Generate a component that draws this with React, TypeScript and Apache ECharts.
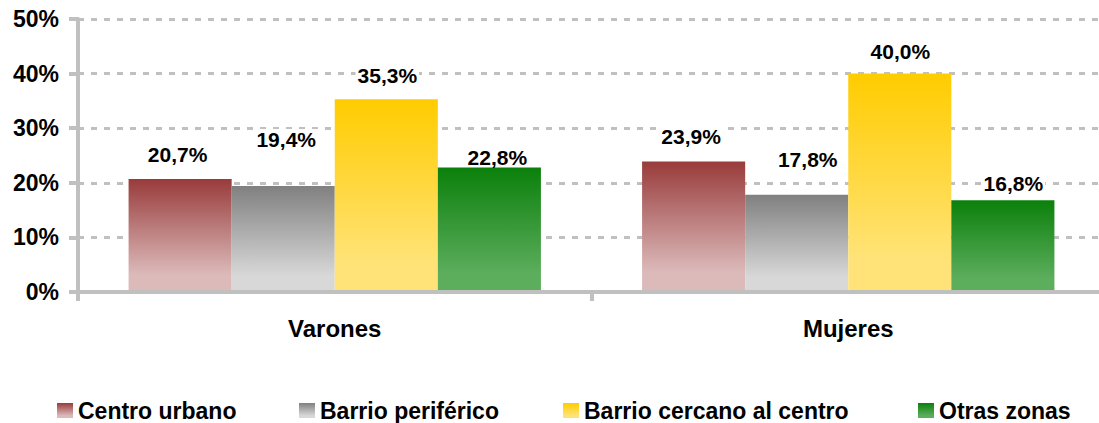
import React, { useEffect, useRef } from "react";
import * as echarts from "echarts";

const categories = ["Varones", "Mujeres"];
const seriesNames = ["Centro urbano", "Barrio periférico", "Barrio cercano al centro", "Otras zonas"];
const centroUrbano = [20.7, 23.9];
const barrioPeriferico = [19.4, 17.8];
const barrioCercano = [35.3, 40.0];
const otrasZonas = [22.8, 16.8];
const yMin = 0;
const yMax = 50;
const yInterval = 10;

// styling (not data)
const gradients = [
  ["#993b3b", "#dcbaba"],
  ["#808080", "#d8d8d8"],
  ["#ffcc00", "#ffe378"],
  ["#0b800b", "#5cad5c"],
];
const labelOffsets = [
  [[-2.5, -14], [-2.5, -15.5]],
  [[3, -37], [11, -25.5]],
  [[1, -13.5], [0.5, -12.5]],
  [[8, -0.5], [10.5, -7]],
];
const legendLefts = [57, 299, 563, 918];
const FONT = "'Liberation Sans', Arial, sans-serif";

function grad(top: string, bottom: string) {
  return new echarts.graphic.LinearGradient(0, 0, 0, 1, [
    { offset: 0, color: top },
    { offset: 0.85, color: bottom },
    { offset: 1, color: bottom },
  ]);
}

export default function App() {
  const ref = useRef<HTMLDivElement>(null);
  useEffect(() => {
    if (!ref.current) return;
    const chart = echarts.init(ref.current, null, { renderer: "svg" });
    const values = [centroUrbano, barrioPeriferico, barrioCercano, otrasZonas];
    const series = values.map((vals, i) => ({
      name: seriesNames[i],
      type: "bar",
      z: 3,
      barGap: "0%",
      barCategoryGap: "19.7%",
      itemStyle: { color: grad(gradients[i][0], gradients[i][1]) },
      data: vals.map((v, j) => ({
        value: v,
        label: {
          show: true,
          position: "top",
          distance: 0,
          offset: labelOffsets[i][j],
        },
      })),
      label: {
        show: true,
        position: "top",
        distance: 0,
        color: "#000",
        fontWeight: "bold",
        fontSize: 21,
        lineHeight: 20,
        backgroundColor: "#fff",
        padding: [0, 2],
        fontFamily: FONT,
        formatter: (p: any) => p.value.toFixed(1).replace(".", ",") + "%",
      },
    }));
    chart.setOption({
      animation: false,
      backgroundColor: "#fff",
      grid: { left: 78, right: 1, top: 19, bottom: 131, containLabel: false },
      legend: seriesNames.map((n, i) => ({
        data: [n],
        left: legendLefts[i],
        top: 399,
        padding: 0,
        icon: "rect",
        itemWidth: 16,
        itemHeight: 15,
        selectedMode: false,
        textStyle: { color: "#000", fontWeight: "bold", fontSize: 23, fontFamily: FONT },
      })),
      xAxis: {
        type: "category",
        data: categories,
        z: 10,
        axisLine: { show: true, lineStyle: { color: "#c0c0c0", width: 4 } },
        axisTick: { show: true, length: 9, lineStyle: { color: "#c0c0c0", width: 4 } },
        axisLabel: { color: "#000", fontWeight: "bold", fontSize: 24, fontFamily: FONT, margin: 24 },
      },
      yAxis: {
        type: "value",
        min: yMin,
        max: yMax,
        interval: yInterval,
        z: 0,
        axisLine: { show: true, lineStyle: { color: "#c0c0c0", width: 4 } },
        axisTick: { show: true, length: 9, lineStyle: { color: "#c0c0c0", width: 4 } },
        axisLabel: {
          color: "#000",
          fontWeight: "bold",
          fontSize: 23,
          fontFamily: FONT,
          margin: 19,
          formatter: "{value}%",
        },
        splitLine: { show: true, lineStyle: { color: "#c0c0c0", width: 3, type: [6, 7] } },
      },
      series,
    });
    return () => chart.dispose();
  }, []);
  return (
    <div
      style={{
        position: "absolute",
        left: 0,
        top: 0,
        width: 1099,
        height: 423,
        overflow: "hidden",
      }}
    >
      <div ref={ref} style={{ width: 1106, height: 423 }} />
    </div>
  );
}
